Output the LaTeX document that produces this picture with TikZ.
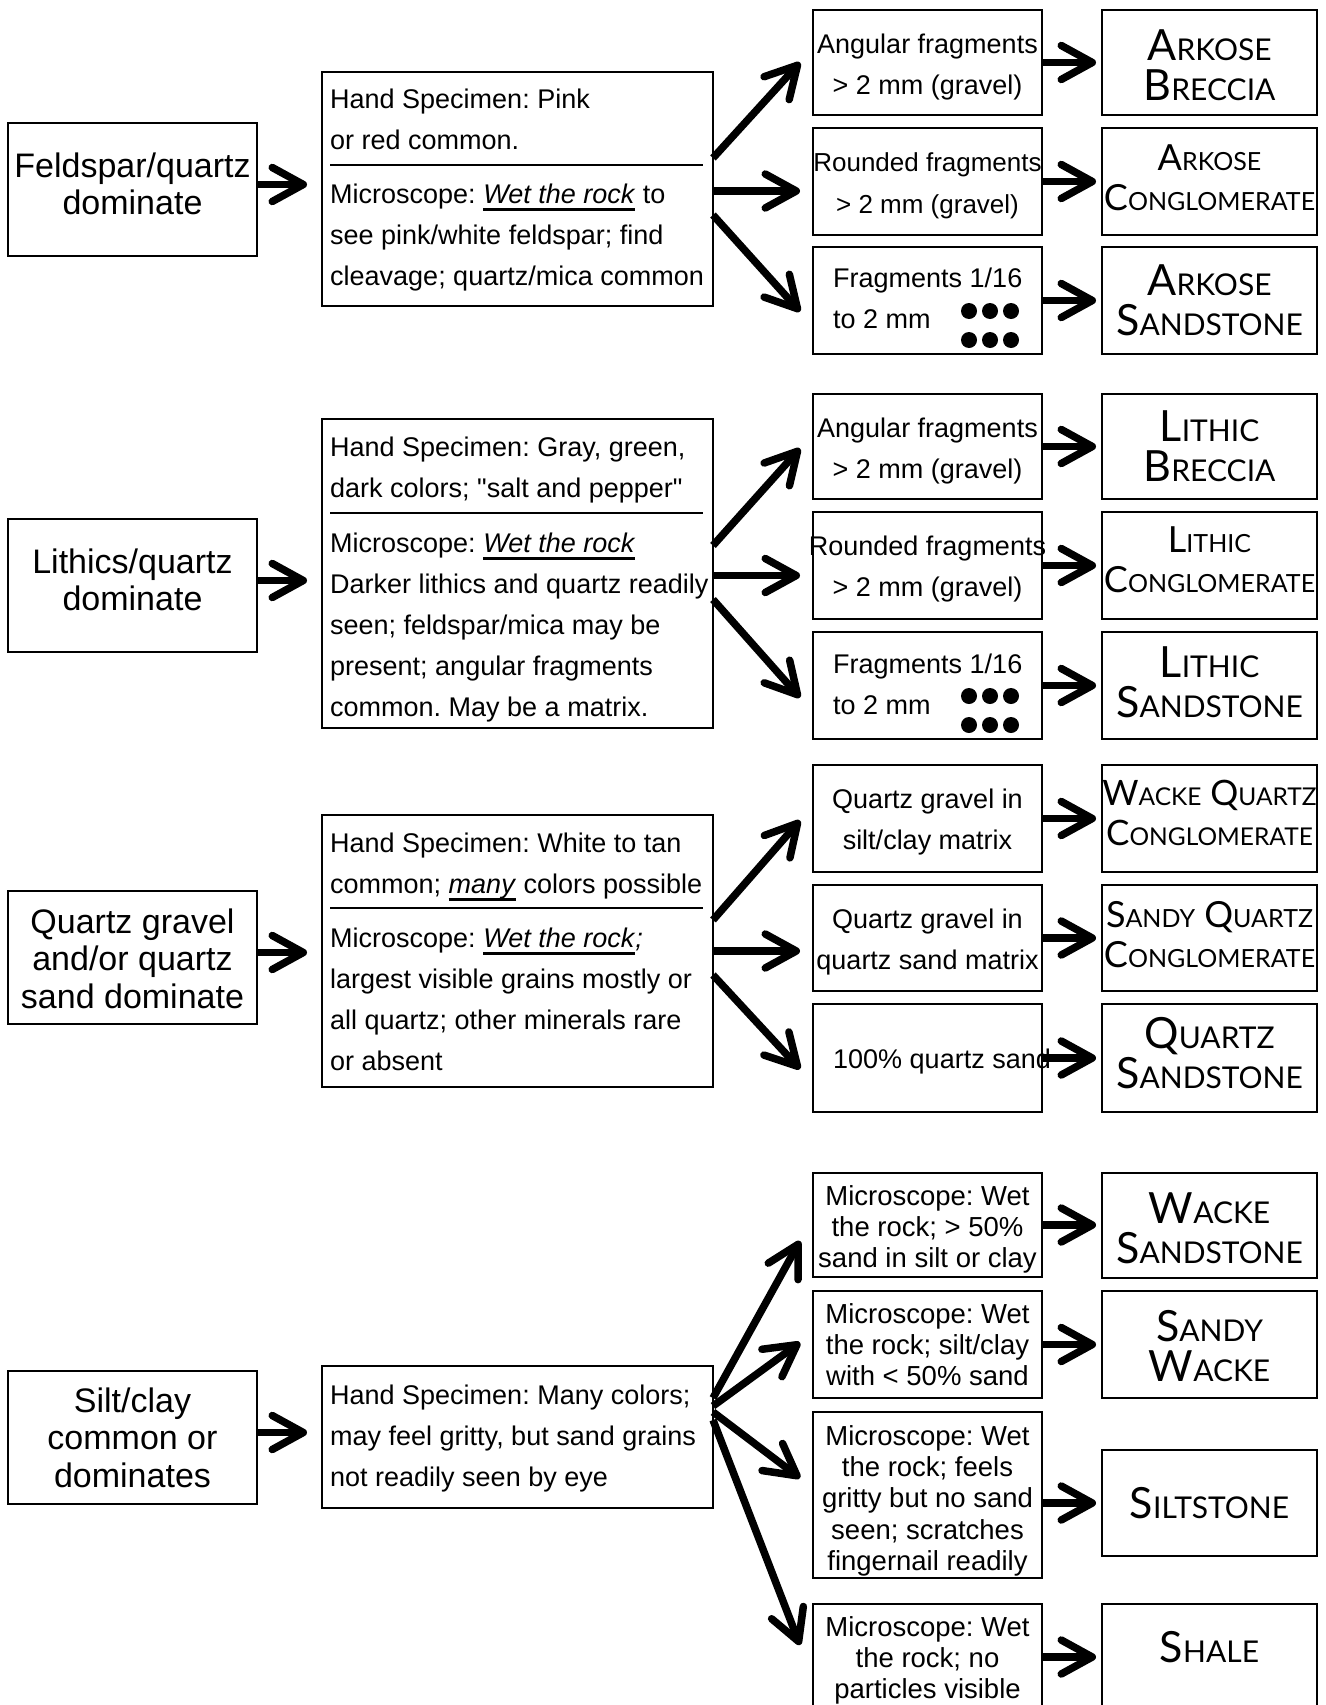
\documentclass[tikz,border=0pt]{standalone}
\usepackage{fontspec}
\setmainfont{Liberation Sans}
\newfontfamily\dfont{Lato}
\usetikzlibrary{arrows.meta,calc}
\frenchspacing
\newcommand\fs{\rule{0pt}{0.8em}}
\def\scsize{29}
\newcommand\SC[1]{{\fontsize{\scsize}{40}\selectfont #1}}
\newcommand\wul[1]{\setbox0\hbox{#1}\rlap{\rule[-7.5pt]{\wd0}{2.5pt}}\box0{}}
\newcommand\bx[5]{\node[rbox,minimum width={(#4-#2)*1pt},minimum height={(#5-#3)*1pt}] (#1) at ({(#2+#4)/2},{(#3+#5)/2}) {};}
\begin{document}
\begin{tikzpicture}[x=1pt,y=-1pt,
  rbox/.style={draw,line width=1.8pt,inner sep=0pt,outer sep=0pt},
  tA/.style={font=\fontsize{34}{37.5}\selectfont,align=center,inner sep=0pt,anchor=north},
  tB/.style={font=\fontsize{27}{41}\selectfont,align=left,inner sep=0pt,anchor=north west},
  tC/.style={font=\fontsize{27}{41.5}\selectfont,align=center,inner sep=0pt,anchor=north},
  tCl/.style={font=\fontsize{27}{41}\selectfont,align=left,inner sep=0pt,anchor=north west},
  tCf/.style={font=\fontsize{27.5}{31.3}\selectfont,align=center,inner sep=0pt,anchor=north},
  tD/.style={font=\def\scsize{30}\dfont\fontsize{43}{40}\selectfont,align=center,inner sep=0pt,anchor=north},
  tDs/.style={font=\def\scsize{25}\dfont\fontsize{36}{40}\selectfont,align=center,inner sep=0pt,anchor=north},
  arr/.style={line width=7.5pt,-{Straight Barb[round,length=31pt,width=34pt]}},
  divl/.style={line width=2.2pt},
  dot/.style={fill=black}
]
\useasboundingbox (0,0) rectangle (1325,1705);
\fill[white] (0,0) rectangle (1325,1705);
% boxes
\bx{A1}{8}{123}{257}{256}
\bx{A2}{8}{519}{257}{652}
\bx{A3}{8}{891}{257}{1024}
\bx{A4}{8}{1371}{257}{1504}
\bx{B1}{322}{72}{713}{306}
\bx{B2}{322}{419}{713}{728}
\bx{B3}{322}{815}{713}{1087}
\bx{B4}{322}{1366}{713}{1508}
\bx{C1}{813}{10}{1042}{115}
\bx{C2}{813}{128}{1042}{235}
\bx{C3}{813}{247}{1042}{354}
\bx{C4}{813}{394}{1042}{499}
\bx{C5}{813}{512}{1042}{619}
\bx{C6}{813}{632}{1042}{739}
\bx{C7}{813}{765}{1042}{872}
\bx{C8}{813}{885}{1042}{991}
\bx{C9}{813}{1004}{1042}{1112}
\bx{C10}{813}{1173}{1042}{1277}
\bx{C11}{813}{1291}{1042}{1398}
\bx{C12}{813}{1412}{1042}{1578}
\bx{C13}{813}{1604}{1042}{1720}
\bx{D1}{1102}{10}{1317}{115}
\bx{D2}{1102}{128}{1317}{235}
\bx{D3}{1102}{247}{1317}{354}
\bx{D4}{1102}{394}{1317}{499}
\bx{D5}{1102}{512}{1317}{619}
\bx{D6}{1102}{632}{1317}{739}
\bx{D7}{1102}{765}{1317}{872}
\bx{D8}{1102}{885}{1317}{991}
\bx{D9}{1102}{1004}{1317}{1112}
\bx{D10}{1102}{1173}{1317}{1278}
\bx{D11}{1102}{1291}{1317}{1398}
\bx{D12}{1102}{1450}{1317}{1556}
\bx{D13}{1102}{1604}{1317}{1720}
% A texts
\node[tA] (tA1) at (132.5,149.8) {\fs Feldspar/quartz\\dominate};
\node[tA] (tA2) at (132.5,545.8) {\fs Lithics/quartz\\dominate};
\node[tA] (tA3) at (132.5,905.8) {\fs Quartz gravel\\and/or quartz\\sand dominate};
\node[tA] (tA4) at (132.5,1384.8) {\fs Silt/clay\\common or\\dominates};
% B texts
\node[tB] (tB1a) at (330,86.4) {\fs Hand Specimen: Pink\\or red common.};
\node[tB] (tB1b) at (330,181.4) {\fs Microscope: \wul{\textit{Wet the rock}} to\\see pink/white feldspar; find\\cleavage; quartz/mica common};
\node[tB] (tB2a) at (330,434.4) {\fs Hand Specimen: Gray, green,\\dark colors; \textquotedbl salt and pepper\textquotedbl};
\node[tB] (tB2b) at (330,530.4) {\fs Microscope: \wul{\textit{Wet the rock}}\\Darker lithics and quartz readily\\seen; feldspar/mica may be\\present; angular fragments\\common. May be a matrix.};
\node[tB] (tB3a) at (330,830.4) {\fs Hand Specimen: White to tan\\common; \wul{\textit{many}} colors possible};
\node[tB] (tB3b) at (330,925.4) {\fs Microscope: \wul{\textit{Wet the rock}}\textit{;}\\largest visible grains mostly or\\all quartz; other minerals rare\\or absent};
\node[tB] (tB4) at (330,1382.4) {\fs Hand Specimen: Many colors;\\may feel gritty, but sand grains\\not readily seen by eye};
\draw[divl] (330,165) -- (703,165);
\draw[divl] (330,513) -- (703,513);
\draw[divl] (330,908) -- (703,908);
% C texts
\node[tC] (tC1) at (927.5,31.4) {\fs Angular fragments\\> 2 mm (gravel)};
\node[tC,font=\fontsize{26}{41.5}\selectfont] (tC2) at (927.5,150.8) {\fs Rounded fragments\\> 2 mm (gravel)};
\node[tCl] (tC3) at (833,265.4) {\fs Fragments 1/16\\to 2 mm};
\node[tC] (tC4) at (927.5,415.4) {\fs Angular fragments\\> 2 mm (gravel)};
\node[tC] (tC5) at (927.5,533.4) {\fs Rounded fragments\\> 2 mm (gravel)};
\node[tCl] (tC6) at (833,651.4) {\fs Fragments 1/16\\to 2 mm};
\node[tC] (tC7) at (927.5,786.4) {\fs Quartz gravel in\\silt/clay matrix};
\node[tC] (tC8) at (927.5,906.4) {\fs Quartz gravel in\\quartz sand matrix};
\node[tCl] (tC9) at (833,1046.4) {\fs 100\% quartz sand};
\node[tCf] (tC10) at (927.5,1183) {\fs Microscope: Wet\\the rock; > 50\%\\sand in silt or clay};
\node[tCf] (tC11) at (927.5,1301) {\fs Microscope: Wet\\the rock; silt/clay\\with < 50\% sand};
\node[tCf] (tC12) at (927.5,1423) {\fs Microscope: Wet\\the rock; feels\\gritty but no sand\\seen; scratches\\fingernail readily};
\node[tCf] (tC13) at (927.5,1614) {\fs Microscope: Wet\\the rock; no\\particles visible};
% dots
\foreach \dx in {969,990,1011}{
  \fill[dot] (\dx,311) circle[radius=8pt];
  \fill[dot] (\dx,340) circle[radius=8pt];
  \fill[dot] (\dx,696) circle[radius=8pt];
  \fill[dot] (\dx,725) circle[radius=8pt];
}
% D texts
\node[tD] (tD1) at (1209.5,25.6) {\fs A\SC{RKOSE}\\B\SC{RECCIA}};
\node[tDs] (tD2) at (1209.5,141.2) {\fs A\SC{RKOSE}\\C\SC{ONGLOMERATE}};
\node[tD] (tD3) at (1209.5,260.6) {\fs A\SC{RKOSE}\\S\SC{ANDSTONE}};
\node[tD] (tD4) at (1209.5,406.6) {\fs L\SC{ITHIC}\\B\SC{RECCIA}};
\node[tDs] (tD5) at (1209.5,523.2) {\fs L\SC{ITHIC}\\C\SC{ONGLOMERATE}};
\node[tD] (tD6) at (1209.5,642.6) {\fs L\SC{ITHIC}\\S\SC{ANDSTONE}};
\node[tDs,font=\def\scsize{24.5}\dfont\fontsize{35}{40}\selectfont] (tD7) at (1209.5,776.8) {\fs W\SC{ACKE} Q\SC{UARTZ}\\C\SC{ONGLOMERATE}};
\node[tDs] (tD8) at (1209.5,898.2) {\fs S\SC{ANDY} Q\SC{UARTZ}\\C\SC{ONGLOMERATE}};
\node[tD] (tD9) at (1209.5,1013.6) {\fs Q\SC{UARTZ}\\S\SC{ANDSTONE}};
\node[tD] (tD10) at (1209.5,1188.6) {\fs W\SC{ACKE}\\S\SC{ANDSTONE}};
\node[tD] (tD11) at (1209.5,1306.6) {\fs S\SC{ANDY}\\W\SC{ACKE}};
\node[tD] (tD12) at (1209.5,1483.6) {\fs S\SC{ILTSTONE}};
\node[tD] (tD13) at (1209.5,1627.6) {\fs S\SC{HALE}};
% A -> B arrows
\draw[arr] ($(A1.east)+(0,-5)$) -- ($(A1.east-|B1.west)+(-15,-5)$);
\draw[arr] ($(A2.east)+(0,-5)$) -- ($(A2.east-|B2.west)+(-15,-5)$);
\draw[arr] ($(A3.east)+(0,-5)$) -- ($(A3.east-|B3.west)+(-15,-5)$);
\draw[arr] ($(A4.east)+(0,-5)$) -- ($(A4.east-|B4.west)+(-15,-5)$);
% B -> C fans
\draw[arr] ($(B1.east)+(0,-31)$) -- ($(C1.west)+(-13,0)$);
\draw[arr] ($(B1.east)+(0,2)$) -- ($(B1.east-|C2.west)+(-13,2)$);
\draw[arr] ($(B1.east)+(0,26)$) -- ($(C3.west)+(-13,11)$);
\draw[arr] ($(B2.east)+(0,-28)$) -- ($(C4.west)+(-13,2)$);
\draw[arr] ($(B2.east)+(0,2)$) -- ($(B2.east-|C5.west)+(-13,2)$);
\draw[arr] ($(B2.east)+(0,26)$) -- ($(C6.west)+(-13,12)$);
\draw[arr] ($(B3.east)+(0,-31)$) -- ($(C7.west)+(-13,2)$);
\draw[arr] (B3.east) -- ($(B3.east-|C8.west)+(-13,0)$);
\draw[arr] ($(B3.east)+(0,24)$) -- ($(C9.west)+(-13,11)$);
\draw[arr] ($(B4.east)+(0,-39)$) -- ($(C10.west)+(-13,16)$);
\draw[arr] ($(B4.east)+(0,-31)$) -- ($(C11.west)+(-13,-2)$);
\draw[arr] ($(B4.east)+(0,-25)$) -- ($(C12.west)+(-13,-17)$);
\draw[arr] ($(B4.east)+(0,-17)$) -- ($(C13.west)+(-13,-17)$);
% C -> D arrows
\foreach \i in {1,...,11}{
  \draw[arr] (C\i.east) -- ($(C\i.east-|D\i.west)+(-6,0)$);
}
\draw[arr] (C12.east|-D12.west) -- ($(D12.west)+(-6,0)$);
\draw[arr] ($(C13.east)+(0,-5)$) -- ($(D13.west)+(-6,-5)$);
\end{tikzpicture}
\end{document}
